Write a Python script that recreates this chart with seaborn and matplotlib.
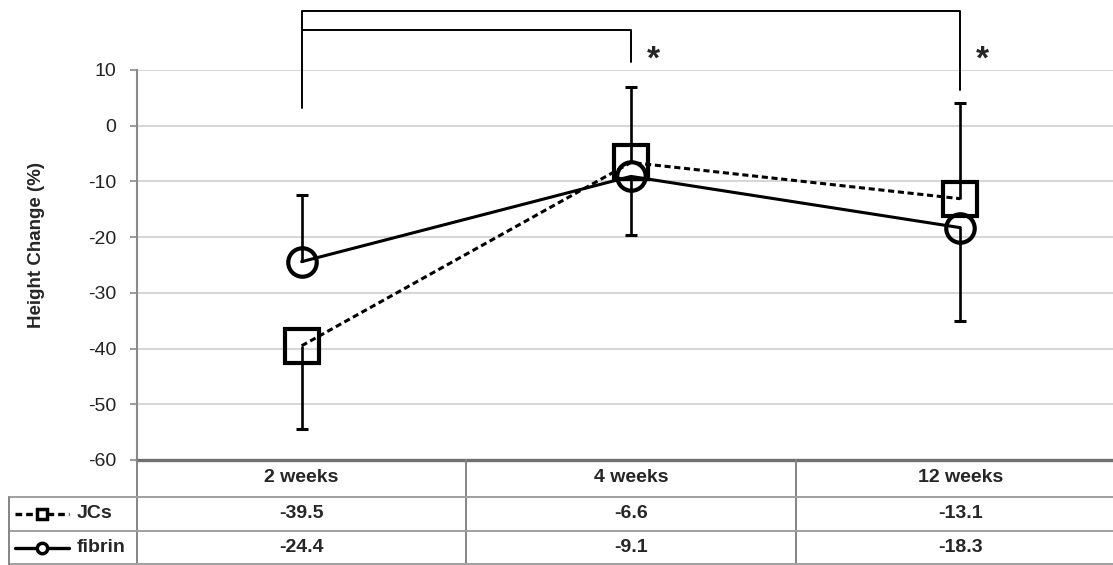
import numpy as np
import pandas as pd
import seaborn as sns
import matplotlib.pyplot as plt
import matplotlib.transforms as mtransforms
from matplotlib.lines import Line2D

# data
weeks = ['2 weeks', '4 weeks', '12 weeks']
jcs_mean = [-39.5, -6.6, -13.1]
fibrin_mean = [-24.4, -9.1, -18.3]
# error bars are one-sided in the figure (lower / upper length)
jcs_err_low = [14.9, 0, 0]
jcs_err_up = [0, 13.5, 17.1]
fibrin_err_low = [0, 10.5, 16.8]
fibrin_err_up = [11.9, 0, 0]
yticks = [10, 0, -10, -20, -30, -40, -50, -60]

W, H = 1113, 565

sns.set_style("white")
plt.rcParams['font.family'] = ['Liberation Sans', 'DejaVu Sans']
plt.rcParams['axes.unicode_minus'] = False

pos = np.arange(len(weeks))
df = pd.DataFrame({
    'pos': np.concatenate([pos, pos]),
    'value': jcs_mean + fibrin_mean,
    'series': ['JCs'] * len(weeks) + ['fibrin'] * len(weeks),
})

fig = plt.figure(figsize=(W / 100, H / 100), dpi=100)
ax = fig.add_axes([137 / W, 105 / H, 988 / W, 390 / H])

sns.lineplot(data=df, x='pos', y='value', style='series',
             markers={'JCs': 's', 'fibrin': 'o'},
             dashes={'JCs': (2, 1.2), 'fibrin': ''},
             color='black', lw=2.2, markeredgecolor='black',
             markerfacecolor='none', markeredgewidth=3,
             legend=False, ax=ax, zorder=3)
for line in ax.get_lines():
    line.set_markerfacecolor('none')
    line.set_markeredgecolor('black')
    if line.get_marker() == 's':
        line.set_markersize(24)
    else:
        line.set_markersize(20.5)

# one-sided error bars
for mean, lo, up in [(jcs_mean, jcs_err_low, jcs_err_up),
                     (fibrin_mean, fibrin_err_low, fibrin_err_up)]:
    for x, m, l, u in zip(pos, mean, lo, up):
        for d in (-l, u):
            if d != 0:
                ax.vlines(x, m, m + d, color='black', lw=1.9, zorder=4)
                ax.plot(x, m + d, marker='_', ms=8, mew=2.2, color='black', zorder=4)

ax.set_xlim(-0.5, 2.5)
ax.set_ylim(-60, 10)
ax.set_yticks(yticks)
ax.set_xticks([])
ax.set_xlabel('')
ax.yaxis.grid(True, color='#cfcfcf', lw=1.2)
ax.set_axisbelow(True)
for s in ['top', 'right']:
    ax.spines[s].set_visible(False)
ax.spines['left'].set_color('#8a8a8a')
ax.spines['left'].set_linewidth(1.5)
ax.spines['bottom'].set_color('#707070')
ax.spines['bottom'].set_linewidth(2.4)
ax.tick_params(axis='y', direction='out', length=5, width=1.2, color='#8a8a8a',
               labelsize=14, labelcolor='#222222', pad=10, left=True)
ax.set_ylabel('Height Change (%)', fontsize=13.5, fontweight='bold')
ax.yaxis.set_label_coords(-0.093, 0.55)

# significance brackets
bk = dict(color='black', lw=1.4, clip_on=False)
ax.plot([0, 0, 2, 2], [3.1, 20.6, 20.6, 6.5], **bk)
ax.plot([0, 1, 1], [17.1, 17.1, 11.5], **bk)
for x in (1, 2):
    ax.text(x + 0.068, 11.8, '*', fontsize=24, fontweight='bold', ha='center',
            va='center', clip_on=False)

# data table under the plot
def fy(py):
    return 1 - py / H

tr = mtransforms.blended_transform_factory(ax.transData, fig.transFigure)
grey = '#858585'
for xd in (-0.5, 0.5, 1.5):
    fig.add_artist(Line2D([xd, xd], [fy(460), fy(565)], transform=tr,
                          color=grey, lw=1.4))
for py in (497, 531, 564):
    fig.add_artist(Line2D([9 / W, 1], [fy(py), fy(py)], transform=fig.transFigure,
                          color='#a0a0a0', lw=1.4))
fig.add_artist(Line2D([9 / W, 9 / W], [fy(497), fy(565)], transform=fig.transFigure,
                      color=grey, lw=1.4))

tfs = 14
for i, w in enumerate(weeks):
    ax.text(i, fy(478), w, transform=tr, ha='center', va='center',
            fontsize=tfs, fontweight='bold')
    ax.text(i, fy(514), f'{jcs_mean[i]:.1f}', transform=tr, ha='center',
            va='center', fontsize=tfs, fontweight='bold')
    ax.text(i, fy(547.5), f'{fibrin_mean[i]:.1f}', transform=tr, ha='center',
            va='center', fontsize=tfs, fontweight='bold')

# legend keys inside the table
fig.add_artist(Line2D([15 / W, 69 / W], [fy(514), fy(514)], transform=fig.transFigure,
                      color='black', lw=2.4, dashes=(2, 1.2)))
fig.add_artist(Line2D([42 / W], [fy(514)], transform=fig.transFigure, marker='s',
                      ms=7.5, mfc='white', mec='black', mew=2.5))
fig.add_artist(Line2D([15 / W, 69 / W], [fy(547.5), fy(547.5)],
                      transform=fig.transFigure, color='black', lw=2.4))
fig.add_artist(Line2D([42 / W], [fy(547.5)], transform=fig.transFigure, marker='o',
                      ms=7.5, mfc='white', mec='black', mew=2.5))
fig.text(77 / W, fy(514), 'JCs', ha='left', va='center', fontsize=tfs,
         fontweight='bold')
fig.text(77 / W, fy(547.5), 'fibrin', ha='left', va='center', fontsize=tfs,
         fontweight='bold')

fig.savefig('out.png', dpi=100, facecolor='white')
